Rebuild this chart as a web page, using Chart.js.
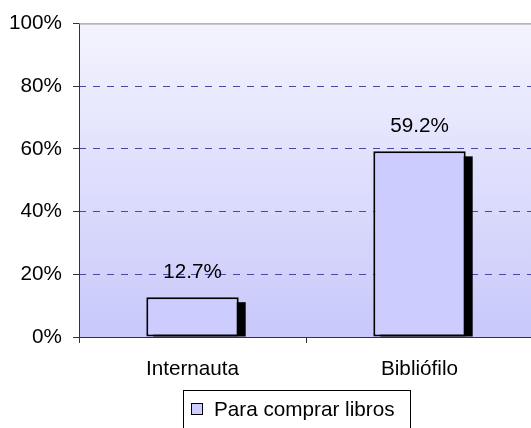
<!DOCTYPE html>
<html>
<head>
<meta charset="utf-8">
<script src="https://cdn.jsdelivr.net/npm/chart.js@4"></script>
<style>
html, body { margin: 0; padding: 0; background: #fff; overflow: hidden; }
#wrap { width: 533px; height: 428px; }
</style>
</head>
<body>
<div id="wrap"><canvas id="chart"></canvas></div>
<script>
const categories = ["Internauta", "Bibliófilo"];
const seriesName = "Para comprar libros";
const values = [12.7, 59.2];
const yTicks = [0, 20, 40, 60, 80, 100];

const FONT = "'Liberation Sans', Arial, sans-serif";
const FSIZE = 20.7;

const plotBackground = {
	id: "plotBackground",
	beforeDraw(chart) {
		const { ctx, chartArea: a } = chart;
		const g = ctx.createLinearGradient(0, a.top, 0, a.bottom);
		g.addColorStop(0, "#f4f4ff");
		g.addColorStop(1, "#c8c8fa");
		ctx.save();
		ctx.fillStyle = g;
		ctx.fillRect(a.left, a.top, a.right - a.left, a.bottom - a.top);
		ctx.restore();
	},
};

const barShadow = {
	id: "barShadow",
	beforeDatasetsDraw(chart) {
		const { ctx } = chart;
		ctx.save();
		ctx.fillStyle = "#000";
		chart.getDatasetMeta(0).data.forEach(bar => {
			const left = bar.x - bar.width / 2 + 7;
			ctx.fillRect(left, bar.y + 5, bar.width, bar.base - bar.y - 5);
		});
		ctx.restore();
	},
	afterDatasetsDraw(chart) {
		const { ctx, chartArea: a } = chart;
		ctx.save();
		// axes
		ctx.strokeStyle = "#333";
		ctx.lineWidth = 1;
		ctx.beginPath();
		ctx.moveTo(a.left + 0.5, a.top);
		ctx.lineTo(a.left + 0.5, a.bottom + 0.5);
		ctx.lineTo(a.right, a.bottom + 0.5);
		ctx.stroke();
		ctx.strokeStyle = "#888";
		ctx.beginPath();
		ctx.moveTo(a.left, a.top + 0.5);
		ctx.lineTo(a.right, a.top + 0.5);
		ctx.stroke();
		// value labels
		ctx.font = FSIZE + "px " + FONT;
		ctx.fillStyle = "#000";
		ctx.textAlign = "center";
		ctx.textBaseline = "middle";
		chart.getDatasetMeta(0).data.forEach((bar, i) => {
			ctx.fillText(values[i].toFixed(1) + "%", bar.x, bar.y - 25);
		});
		ctx.restore();
	},
};

const boxLegend = {
	id: "boxLegend",
	afterDraw(chart) {
		const { ctx } = chart;
		const ds = chart.data.datasets[0];
		ctx.save();
		ctx.strokeStyle = "#000";
		ctx.lineWidth = 1;
		ctx.strokeRect(183.5, 390.5, 227, 60);
		ctx.fillStyle = ds.backgroundColor;
		ctx.fillRect(191, 403, 11, 11);
		ctx.strokeRect(191.5, 403.5, 11, 11);
		ctx.font = FSIZE + "px " + FONT;
		ctx.fillStyle = "#000";
		ctx.textAlign = "left";
		ctx.textBaseline = "middle";
		ctx.fillText(ds.label, 214, 410);
		ctx.restore();
	},
};

new Chart(document.getElementById("chart"), {
	type: "bar",
	plugins: [plotBackground, barShadow, boxLegend],
	data: {
		labels: categories,
		datasets: [
			{
				label: seriesName,
				data: values,
				backgroundColor: "#ccccff",
				borderColor: "#000",
				borderWidth: 2,
				borderSkipped: false,
				categoryPercentage: 1,
				barPercentage: 0.407,
			},
		],
	},
	options: {
		responsive: true,
		maintainAspectRatio: false,
		animation: false,
		layout: { padding: { top: 21, right: 0, left: 0, bottom: 0 } },
		plugins: {
			legend: { display: false },
			tooltip: { enabled: false },
		},
		scales: {
			x: {
				afterFit(scale) { scale.height = 91; },
				grid: {
					offset: true,
					drawOnChartArea: false,
					tickLength: 6,
					tickColor: "#333",
				},
				border: { display: false },
				ticks: {
					padding: 14,
					color: "#000",
					font: { family: FONT, size: FSIZE },
				},
			},
			y: {
				min: 0,
				max: 100,
				afterFit(scale) { scale.width = 79; },
				afterBuildTicks(scale) {
					scale.ticks = yTicks.map(v => ({ value: v }));
				},
				grid: {
					color: ctx => (ctx.tick && ctx.tick.value > 0 && ctx.tick.value < 100 ? "#4848a8" : "rgba(0,0,0,0)"),
					tickColor: "#333",
					tickLength: 6,
				},
				border: { display: false, dash: [7, 7] },
				ticks: {
					padding: 11,
					color: "#000",
					font: { family: FONT, size: FSIZE },
					callback: v => v + "%",
				},
			},
		},
	},
});
</script>
</body>
</html>
